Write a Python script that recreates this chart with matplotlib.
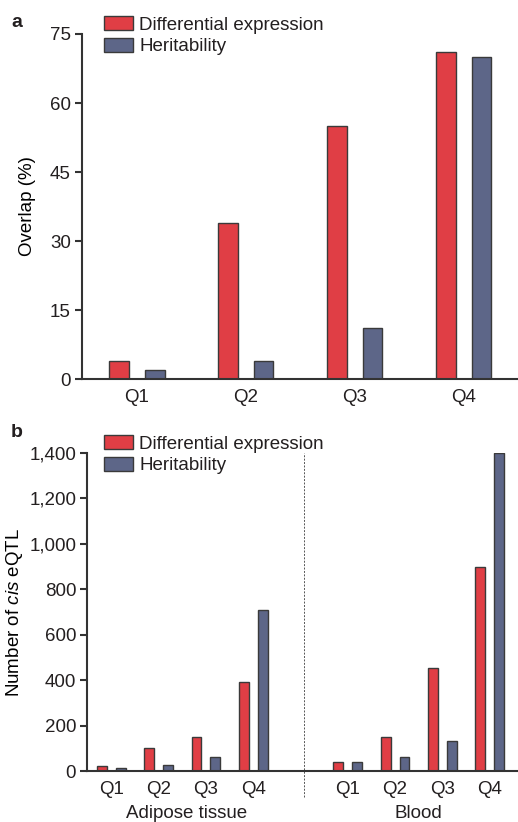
import numpy as np
import matplotlib
matplotlib.use("Agg")
import matplotlib.pyplot as plt
from matplotlib.ticker import FuncFormatter

plt.rcParams['font.family'] = ['Liberation Sans', 'DejaVu Sans']
plt.rcParams['text.color'] = '#231F20'
plt.rcParams['mathtext.fontset'] = 'custom'
plt.rcParams['mathtext.rm'] = 'Liberation Sans'
plt.rcParams['mathtext.it'] = 'Liberation Sans:italic'

# ---- data ----
quartiles = ["Q1", "Q2", "Q3", "Q4"]
series_names = ["Differential expression", "Heritability"]
overlap_de = [4, 34, 55, 71]
overlap_her = [2, 4, 11, 70]
a_yticks = [0, 15, 30, 45, 60, 75]

tissues = ["Adipose tissue", "Blood"]
adipose_de = [23, 100, 150, 390]
adipose_her = [15, 25, 60, 710]
blood_de = [40, 150, 455, 900]
blood_her = [40, 60, 130, 1400]
b_yticks = [0, 200, 400, 600, 800, 1000, 1200, 1400]

RED = '#E03E45'
BLUE = '#5D6688'
EDGE = '#3A3A3A'
AX = '#333333'
FS = 13.5

W, H = 518, 822
fig = plt.figure(figsize=(W / 100, H / 100), dpi=100)


def style(ax):
    for s in ['top', 'right']:
        ax.spines[s].set_visible(False)
    for s in ['left', 'bottom']:
        ax.spines[s].set_color(AX)
        ax.spines[s].set_linewidth(1.5)
    ax.tick_params(axis='y', direction='out', length=5, width=1.5, color=AX,
                   labelsize=FS, labelcolor='#231F20', pad=3)
    ax.tick_params(axis='x', length=0, labelsize=FS, labelcolor='#231F20', pad=7)


# ---- panel a ----
axa = fig.add_axes([82 / W, 1 - 379 / H, 436 / W, 345 / H])
x = np.arange(len(quartiles))
bw = 0.18
off = 0.163
axa.bar(x - off, overlap_de, bw, color=RED, edgecolor=EDGE, linewidth=1.0,
        label=series_names[0], zorder=2)
axa.bar(x + off, overlap_her, bw, color=BLUE, edgecolor=EDGE, linewidth=1.0,
        label=series_names[1], zorder=2)
axa.set_xlim(-0.505, 3.5)
axa.set_ylim(0, 75)
axa.set_yticks(a_yticks)
axa.set_xticks(x)
axa.set_xticklabels(quartiles)
axa.set_ylabel("Overlap (%)", fontsize=FS, labelpad=10)
style(axa)
fig.text(11 / W, 1 - 27 / H, "a", fontsize=14, fontweight='bold', ha='left', va='baseline')

leg_kw = dict(frameon=False, fontsize=FS, handlelength=1.55, handleheight=0.78,
              handletextpad=0.33, labelspacing=0.22, borderpad=0, borderaxespad=0)
la = axa.legend(loc='upper left', bbox_to_anchor=(104 / W, 1 - 16 / H),
                bbox_transform=fig.transFigure, **leg_kw)

# ---- panel b ----
axb = fig.add_axes([87.3 / W, 1 - 771 / H, (W - 87.3) / W, 318 / H])
xa = np.arange(4)
xb = np.arange(4) + 5
bw2 = 0.21
off2 = 0.2
axb.bar(xa - off2, adipose_de, bw2, color=RED, edgecolor=EDGE, linewidth=1.0,
        label=series_names[0], zorder=2)
axb.bar(xa + off2, adipose_her, bw2, color=BLUE, edgecolor=EDGE, linewidth=1.0,
        label=series_names[1], zorder=2)
axb.bar(xb - off2, blood_de, bw2, color=RED, edgecolor=EDGE, linewidth=1.0, zorder=2)
axb.bar(xb + off2, blood_her, bw2, color=BLUE, edgecolor=EDGE, linewidth=1.0, zorder=2)
axb.set_xlim(-0.51, 8.6)
axb.set_ylim(0, 1400)
axb.set_yticks(b_yticks)
axb.yaxis.set_major_formatter(FuncFormatter(lambda v, p: f"{int(v):,}"))
axb.set_xticks(np.concatenate([xa, xb]))
axb.set_xticklabels(quartiles + quartiles)
axb.set_ylabel("Number of $\\it{cis}$ eQTL", fontsize=FS, labelpad=3)
style(axb)
axb.axvline(4.08, ymin=-0.083, ymax=1.0, color='#555555', linestyle=(0, (2, 1.5)),
            linewidth=0.7, clip_on=False)
axb.text(1.6, -0.135, tissues[0], transform=axb.get_xaxis_transform(),
         ha='center', va='center', fontsize=FS)
axb.text(6.5, -0.135, tissues[1], transform=axb.get_xaxis_transform(),
         ha='center', va='center', fontsize=FS)
fig.text(11 / W, 1 - 437 / H, "b", fontsize=14, fontweight='bold', ha='left', va='baseline')
lb = axb.legend(loc='upper left', bbox_to_anchor=(104 / W, 1 - 435 / H),
                bbox_transform=fig.transFigure, **leg_kw)

fig.savefig("out.png", dpi=100)
